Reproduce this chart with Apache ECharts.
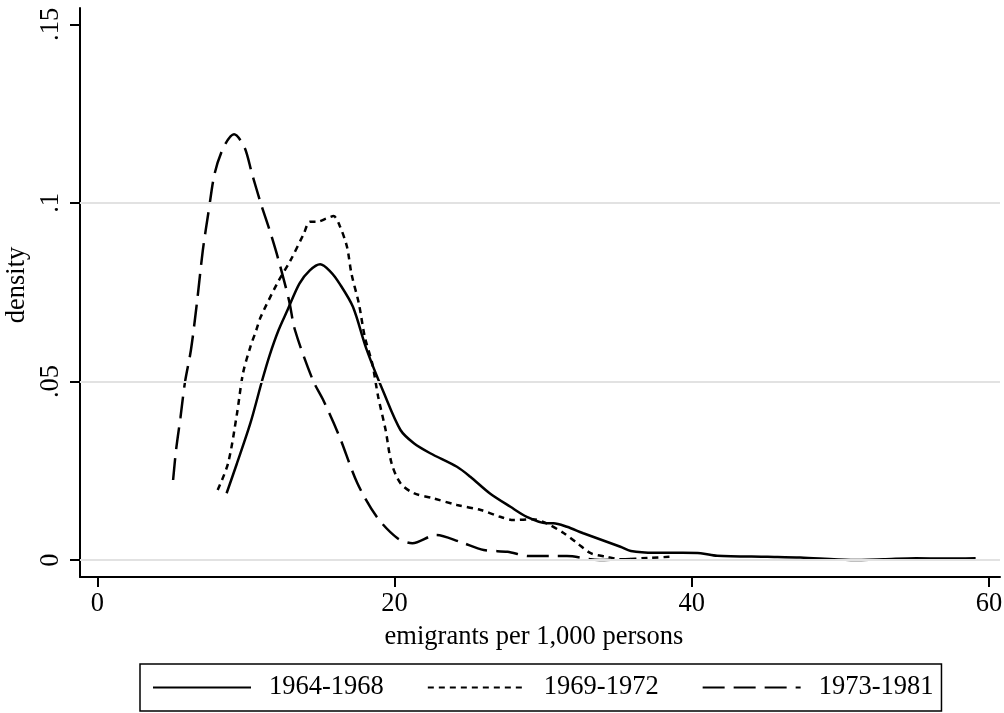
<!DOCTYPE html>
<html>
<head>
<meta charset="utf-8">
<script src="https://cdn.jsdelivr.net/npm/echarts@6/dist/echarts.min.js"></script>
<style>
  html, body { margin: 0; padding: 0; background: #fff; }
  #chart { width: 1004px; height: 713px; }
</style>
</head>
<body>
<div id="chart"></div>
<script>
// Kernel density estimates of emigration rates, by period
const periods = ['1964-1968', '1969-1972', '1973-1981'];

const rate6468 = [8.7, 9.4, 10.3, 11.1, 11.6, 12.2, 12.8, 13.6, 14.3, 15.0, 15.7, 16.3, 17.2, 18.1,
  19.3, 20.4, 21.3, 22.4, 24.2, 25.1, 26.4, 27.8, 28.9, 30.2, 30.7, 31.6, 32.7, 35.2, 35.9, 37.5,
  39.4, 40.6, 41.7, 45.1, 47.3, 50.7, 52.9, 55.1, 57.0, 59.1];
const dens6468 = [0.0187, 0.0271, 0.0383, 0.0504, 0.0574, 0.0644, 0.0700, 0.0774, 0.0811, 0.0828, 0.0807, 0.0774, 0.0709, 0.0592,
  0.0466, 0.0364, 0.0327, 0.0299, 0.0261, 0.0233, 0.0187, 0.0149, 0.0121, 0.0103, 0.0103, 0.0093, 0.0075, 0.0037, 0.0025, 0.0020,
  0.0020, 0.0019, 0.0012, 0.0009, 0.0007, 0.0000, 0.0002, 0.0005, 0.0004, 0.0005];

const rate6972 = [8.1, 8.8, 9.4, 9.8, 10.3, 10.7, 11.0, 12.1, 13.0, 13.9, 14.3, 14.8, 15.4, 15.9, 16.3,
  16.8, 17.1, 17.6, 18.0, 18.5, 18.9, 19.4, 19.8, 20.4, 21.3, 22.6, 24.2, 25.8, 27.1, 28.0, 29.3,
  30.2, 31.4, 32.3, 33.2, 34.3, 35.2, 37.2, 38.5];
const dens6972 = [0.0196, 0.0271, 0.0410, 0.0522, 0.0597, 0.0644, 0.0681, 0.0774, 0.0839, 0.0914, 0.0947, 0.0947, 0.0956, 0.0963, 0.0937,
  0.0877, 0.0802, 0.0718, 0.0625, 0.0550, 0.0457, 0.0364, 0.0271, 0.0215, 0.0187, 0.0173, 0.0154, 0.0140, 0.0121, 0.0112, 0.0114,
  0.0103, 0.0075, 0.0047, 0.0019, 0.0009, 0.0002, 0.0006, 0.0009];

const rate7381 = [5.1, 5.3, 5.6, 5.9, 6.3, 6.7, 7.1, 7.5, 7.9, 8.5, 9.2, 9.9, 10.4, 11.0, 11.6, 12.2,
  12.9, 13.3, 14.5, 15.2, 16.3, 17.5, 18.8, 20.2, 21.2, 22.8, 24.4, 26.0, 27.6, 29.1, 31.6, 33.8, 35.9];
const dens7381 = [0.0224, 0.0308, 0.0400, 0.0498, 0.0588, 0.0719, 0.0867, 0.0979, 0.1083, 0.1156, 0.1192, 0.1156, 0.1083, 0.0999, 0.0923, 0.0839,
  0.0727, 0.0644, 0.0504, 0.0448, 0.0345, 0.0215, 0.0121, 0.0061, 0.0047, 0.0070, 0.0051, 0.0028, 0.0023, 0.0011, 0.0011, 0.0000, 0.0003];

const xTicks = [0, 20, 40, 60];
const yTicks = [0, 0.05, 0.1, 0.15];
const yTickLabels = ['0', '.05', '.1', '.15'];
const gridValues = [0, 0.05, 0.1];

const zip = (xs, ys) => xs.map((x, i) => [x, ys[i]]);
const FONT = '"Liberation Serif", "Times New Roman", serif';
const FS = 26.5;

const lineSeries = (name, xs, ys, dash) => ({
  name: name,
  type: 'line',
  data: zip(xs, ys),
  showSymbol: false,
  symbol: 'none',
  smooth: 0.3,
  z: 3,
  itemStyle: { color: '#000' },
  lineStyle: { color: '#000', width: 2.5, type: dash }
});

const chart = echarts.init(document.getElementById('chart'), null, { renderer: 'canvas' });
chart.setOption({
  backgroundColor: '#fff',
  animation: false,
  textStyle: { fontFamily: FONT },
  grid: { left: 80, right: 4, top: 8, bottom: 136, containLabel: false, outerBoundsMode: 'none' },
  xAxis: {
    type: 'value',
    min: -1.164,
    max: 60.74,
    name: 'emigrants per 1,000 persons',
    nameLocation: 'middle',
    nameGap: 47,
    nameTextStyle: { fontFamily: FONT, fontSize: FS, color: '#000', padding: [0, 12, 0, 0] },
    axisLine: { show: true, onZero: false, lineStyle: { color: '#000', width: 2 } },
    axisTick: { show: true, length: 10, lineStyle: { color: '#000', width: 2 }, customValues: xTicks },
    axisLabel: { fontFamily: FONT, fontSize: FS, color: '#000', margin: 14, customValues: xTicks },
    splitLine: { show: false }
  },
  yAxis: {
    type: 'value',
    min: -0.00476,
    max: 0.15457,
    name: 'density',
    nameLocation: 'middle',
    nameRotate: 90,
    nameGap: 42,
    nameTextStyle: { fontFamily: FONT, fontSize: FS, color: '#000', padding: [0, 0, 0, 15] },
    axisLine: { show: true, onZero: false, lineStyle: { color: '#000', width: 2 } },
    axisTick: { show: true, length: 10, lineStyle: { color: '#000', width: 2 }, customValues: yTicks },
    axisLabel: {
      fontFamily: FONT, fontSize: FS, color: '#000', rotate: 90, margin: 15,
      customValues: yTicks,
      formatter: (v) => yTickLabels[yTicks.findIndex(t => Math.abs(t - v) < 1e-9)] ?? ''
    },
    splitLine: { show: false }
  },
  legend: {
    data: periods,
    left: 140,
    top: 664,
    orient: 'horizontal',
    padding: [10, 8, 10, 12],
    borderColor: '#000',
    borderWidth: 1.5,
    itemWidth: 98,
    itemHeight: 20,
    itemGap: 43,
    itemStyle: { color: 'rgba(0,0,0,0)', borderWidth: 0, opacity: 0 },
    textStyle: { fontFamily: FONT, fontSize: FS, color: '#000', padding: [0, 0, 0, 13], lineHeight: 26 }
  },
  series: [
    {
      name: 'gridlines',
      type: 'line',
      data: [],
      z: 1,
      silent: true,
      markLine: {
        silent: true,
        symbol: 'none',
        label: { show: false },
        lineStyle: { color: '#e2e2e2', width: 2, type: 'solid' },
        data: gridValues.map(v => ({ yAxis: v }))
      }
    },
    lineSeries(periods[0], rate6468, dens6468, 'solid'),
    lineSeries(periods[1], rate6972, dens6972, [6, 5]),
    lineSeries(periods[2], rate7381, dens7381, [22, 9])
  ]
});
</script>
</body>
</html>
